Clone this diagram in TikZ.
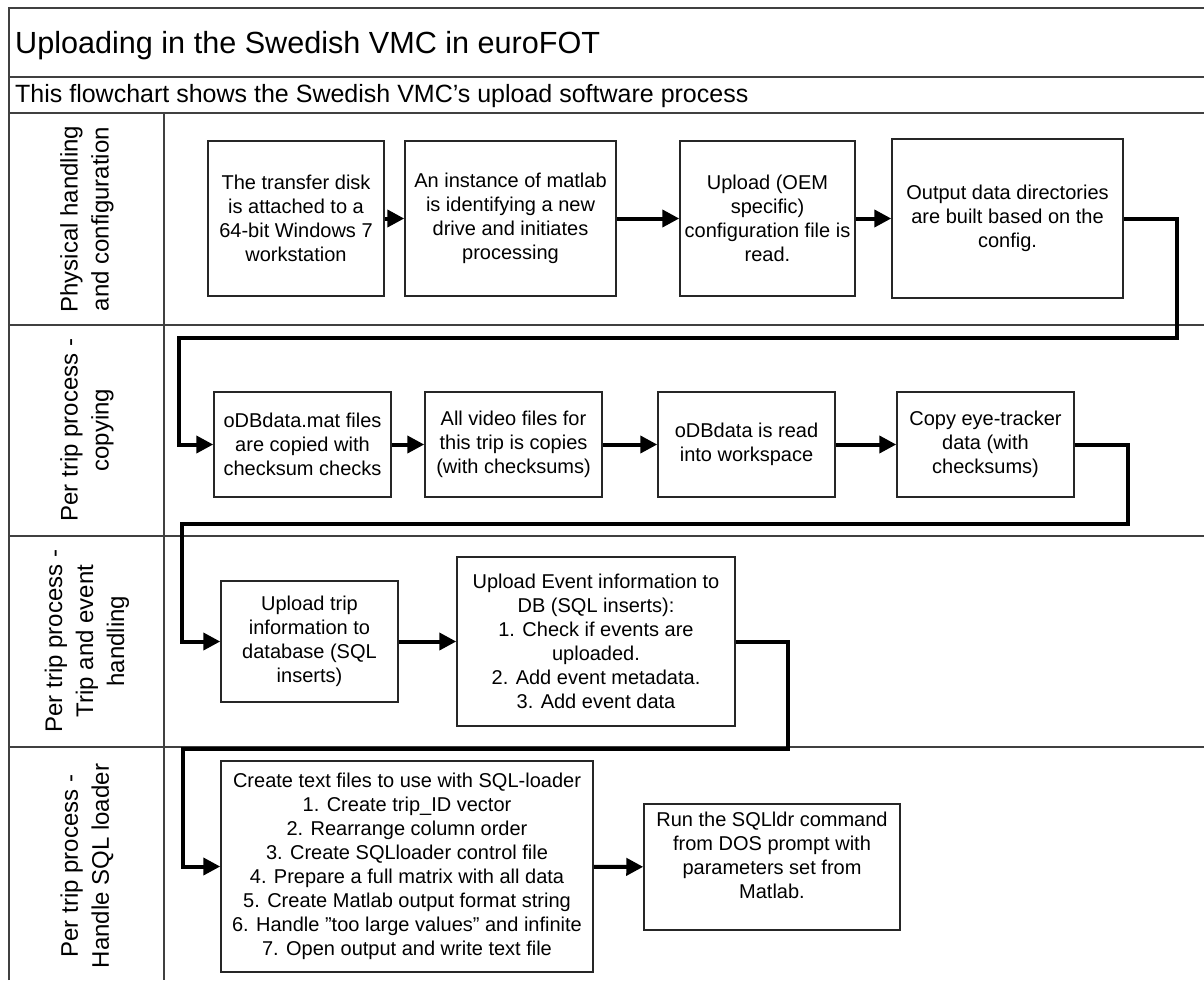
\documentclass[tikz,border=0pt]{standalone}
\usepackage{fontspec}
\setmainfont{Liberation Sans}
\usetikzlibrary{arrows.meta}
\begin{document}
\begin{tikzpicture}[x=1pt,y=-1pt,
  frame/.style={draw=black!75,line width=1.4pt},
  box/.style={draw=black!85,line width=1.5pt,align=center,inner sep=0pt,
    font=\fontsize{20}{24}\selectfont},
  lane/.style={rotate=90,align=center,inner sep=0pt,
    font=\fontsize{24}{31}\selectfont},
  conn/.style={line width=4pt,line join=miter,
    -{Triangle[length=17pt,width=17pt]}}
]
\useasboundingbox (0,0) rectangle (1204,980);
% frame
\draw[frame] (9,980) -- (9,8) -- (1204,8);
\draw[frame] (9,77) -- (1204,77);
\draw[frame] (9,113) -- (1204,113);
\draw[frame] (9,325) -- (1204,325);
\draw[frame] (9,536) -- (1204,536);
\draw[frame] (9,747) -- (1204,747);
\draw[frame] (164,113) -- (164,980);
% title
\node[anchor=base west,inner sep=0pt,font=\fontsize{30.6}{36}\selectfont] (title) at (15,53) {Uploading in the Swedish VMC in euroFOT};
\node[anchor=base west,inner sep=0pt,font=\fontsize{25}{29}\selectfont] (sub) at (15,102) {This flowchart shows the Swedish VMC’s upload software process};
% lanes
\node[lane] (L1) at (87,219) {Physical handling\\and configuration};
\node[lane] (L2) at (87,430) {Per trip process -\\copying};
\node[lane] (L3) at (87,641) {Per trip process -\\Trip and event\\handling};
\node[lane] (L4) at (87,866) {Per trip process -\\Handle SQL loader};
% lane 1
\node[box,minimum width=176pt,minimum height=155pt] (B1) at (296,218.5) {The transfer disk\\is attached to a\\64-bit Windows 7\\workstation};
\node[box,minimum width=211pt,minimum height=155pt] (B2) at (510.5,218.5) {An instance of matlab\\is identifying a new\\drive and initiates\\processing};
\node[box,minimum width=175pt,minimum height=155pt] (B3) at (767.5,218.5) {Upload (OEM\\specific)\\configuration file is\\read.};
\node[box,minimum width=231pt,minimum height=159pt] (B4) at (1007.5,218.5) {Output data directories\\are built based on the\\config.};
% lane 2
\node[box,minimum width=177pt,minimum height=105pt] (C1) at (302.5,444.5) {oDBdata.mat files\\are copied with\\checksum checks};
\node[box,minimum width=177pt,minimum height=105pt] (C2) at (513.5,444.5) {All video files for\\this trip is copies\\(with checksums)};
\node[box,minimum width=177pt,minimum height=105pt] (C3) at (746.5,444.5) {oDBdata is read\\into workspace};
\node[box,minimum width=177pt,minimum height=105pt] (C4) at (985.5,444.5) {Copy eye-tracker\\data (with\\checksums)};
% lane 3
\node[box,minimum width=177pt,minimum height=121pt] (D1) at (309.5,641.5) {Upload trip\\information to\\database (SQL\\inserts)};
\node[box,minimum width=278pt,minimum height=169pt] (D2) at (596,641.5) {Upload Event information to\\DB (SQL inserts):\\1. Check if events are\\uploaded.\\2. Add event metadata.\\3. Add event data};
% lane 4
\node[box,minimum width=372pt,minimum height=211pt] (E1) at (407,866.5) {Create text files to use with SQL-loader\\1. Create trip\_ID vector\\2. Rearrange column order\\3. Create SQLloader control file\\4. Prepare a full matrix with all data\\5. Create Matlab output format string\\6. Handle "too large values" and infinite\\7. Open output and write text file};
\node[box,minimum width=256pt,minimum height=126pt] (E2) at (772,867) {};
\node[align=center,inner sep=0pt,font=\fontsize{20}{24}\selectfont,anchor=center] (E2t) at (772,855) {Run the SQLldr command\\from DOS prompt with\\parameters set from\\Matlab.};
% bend points
\coordinate (k1) at (1177,338);
\coordinate (k2) at (179,338);
\coordinate (k3) at (1128,524);
\coordinate (k4) at (182,524);
\coordinate (k5) at (788,749);
\coordinate (k6) at (183,749);
% connectors
\draw[conn] (B1) -- (B2);
\draw[conn] (B2) -- (B3);
\draw[conn] (B3) -- (B4);
\draw[conn] (B4.east) -| (k1) -- (k2) |- (C1.west);
\draw[conn] (C1) -- (C2);
\draw[conn] (C2) -- (C3);
\draw[conn] (C3) -- (C4);
\draw[conn] (C4.east) -| (k3) -- (k4) |- (D1.west);
\draw[conn] (D1) -- (D2);
\draw[conn] (D2.east) -| (k5) -- (k6) |- (E1.west);
\draw[conn] (E1) -- (E2);
\end{tikzpicture}
\end{document}
